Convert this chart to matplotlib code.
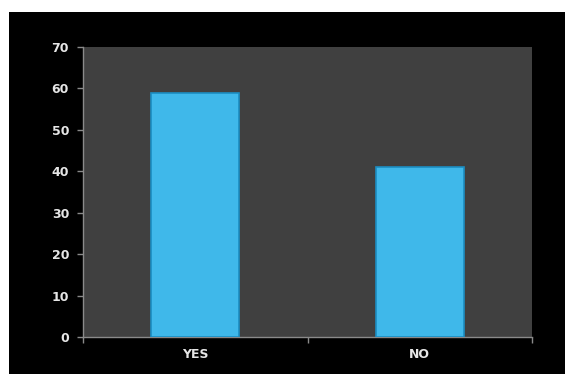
import matplotlib.pyplot as plt
from matplotlib.patches import Rectangle

categories = ["YES", "NO"]
values = [59, 41]
y_ticks = [0, 10, 20, 30, 40, 50, 60, 70]

fig = plt.figure(figsize=(5.65, 3.74), dpi=100, facecolor="white")
# black panel behind the chart
fig.patches.append(Rectangle((9 / 565, 0), 1 - 9 / 565, 1 - 12 / 374,
                             transform=fig.transFigure, facecolor="black",
                             edgecolor="none", zorder=-1))

ax = fig.add_axes([83 / 565, 37 / 374, 449 / 565, 290 / 374])
ax.set_facecolor("#404040")

x = range(len(categories))
ax.bar(x, values, width=0.39, color="#3fb8ea", edgecolor="#1b8dc2", linewidth=1.2, zorder=3)

ax.set_xlim(-0.5, 1.5)
ax.set_ylim(0, 70)
ax.set_yticks(y_ticks)
ax.set_xticks(list(x))
ax.set_xticklabels(categories)
ax.set_xticks([-0.5, 0.5, 1.5], minor=True)

for s in ["top", "right"]:
    ax.spines[s].set_visible(False)
for s in ["left", "bottom"]:
    ax.spines[s].set_color("#8a8a8a")
    ax.spines[s].set_linewidth(1)

ax.tick_params(axis="y", colors="#8a8a8a", length=4, width=1, labelcolor="#e6e6e6",
               labelsize=9, pad=6)
ax.tick_params(axis="x", which="major", length=0, labelcolor="#e6e6e6", labelsize=9, pad=8)
ax.tick_params(axis="x", which="minor", length=4, width=1, colors="#8a8a8a")
for lbl in ax.get_xticklabels() + ax.get_yticklabels():
    lbl.set_fontweight("bold")

fig.savefig("out.png", dpi=100, facecolor=fig.get_facecolor())
